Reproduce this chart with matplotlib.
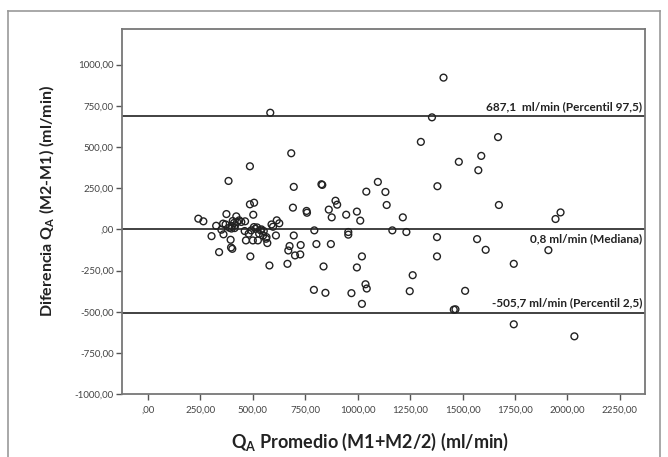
import numpy as np
import matplotlib
matplotlib.use("Agg")
import matplotlib.pyplot as plt
from matplotlib.ticker import FuncFormatter
from matplotlib.lines import Line2D

plt.rcParams["font.family"] = ["Lato", "DejaVu Sans"]
plt.rcParams["mathtext.fontset"] = "custom"
plt.rcParams["mathtext.rm"] = "Lato"
plt.rcParams["mathtext.bf"] = "Lato:bold"

# QA promedio (x) y diferencia M2-M1 (y)
promedio = [
    240, 264, 303, 325, 339, 350, 360, 374, 384, 370, 394, 396, 402, 404, 413,
    421, 410, 435, 463, 467, 461, 486, 488, 486, 506, 502, 492, 512, 524, 537,
    549, 563, 569, 579, 583, 596, 610, 614, 626,
    358, 398, 425, 445, 480, 505, 520, 530, 541, 552, 565, 500, 589, 400, 388, 415,
    665, 669, 675, 683, 691, 695, 695, 701, 726, 728, 756, 758, 791, 793, 803,
    827, 831, 837, 846, 862, 872, 876, 894, 902, 945, 955, 955, 970, 996, 996,
    1012, 1020, 1020, 1037, 1043, 1041, 1096, 1132, 1138, 1165, 1215, 1232,
    1248, 1262, 1301, 1354, 1380, 1378, 1378, 1409, 1458, 1466, 1482, 1512,
    1569, 1575, 1589, 1610, 1669, 1673, 1744, 1744, 1909, 1943, 1967, 2033,
]
diferencia = [
    65, 49, -41, 22, -138, -2, -30, 93, 294, 30, -63, -110, -118, 51, 8,
    79, 39, 55, 49, -67, -10, 383, -164, 152, 162, 89, -6, 4, -67, -6,
    -37, -57, -83, -219, 708, 16, -37, 55, 37,
    35, 5, 45, 45, -26, 14, 12, -26, 0, -10, -47, -67, 30, 20, 10, 25,
    -209, -128, -101, 462, 132, 258, -37, -158, -152, -95, 112, 101, -367, -6, -89,
    274, 270, -225, -385, 120, -89, 73, 174, 150, 89, -16, -32, -387, 108, -231,
    53, -452, -164, -333, -359, 229, 288, 227, 148, -6, 73, -16,
    -375, -278, 531, 680, 262, -47, -164, 921, -487, -485, 410, -373,
    -59, 359, 446, -124, 560, 148, -209, -576, -126, 63, 103, -649,
]

limites = [687.1, 0.8, -505.7]
etiquetas = [
    "687,1  ml/min (Percentil 97,5)",
    "0,8 ml/min (Mediana)",
    "-505,7 ml/min (Percentil 2,5)",
]
posicion_texto = ["arriba", "abajo", "arriba"]

xticks = np.arange(0, 2251, 250)
yticks = np.arange(-1000, 1001, 250)


def formato_spss(v, pos=None):
    s = f"{v:.2f}".replace(".", ",")
    if s.startswith("0,"):
        s = s[1:]
    if s.startswith("-0,"):
        s = "-" + s[2:]
    return s


fig = plt.figure(figsize=(6.68, 4.57), dpi=100)
ax = fig.add_axes([0.1826, 0.1375, 0.7837, 0.799])

ax.scatter(promedio, diferencia, s=24, facecolors="none", edgecolors="#222222",
           linewidths=1.0, zorder=3)

for valor, texto, pos in zip(limites, etiquetas, posicion_texto):
    ax.axhline(valor, color="#333333", lw=1.3, zorder=2)
    if pos == "arriba":
        ax.text(2355, valor + 26, texto, ha="right", va="bottom",
                fontsize=8.5, fontweight="bold", color="#222222")
    else:
        ax.text(2355, valor - 26, texto, ha="right", va="top",
                fontsize=8.5, fontweight="bold", color="#222222")

ax.set_xlim(-124, 2372)
ax.set_ylim(-1000, 1216)
ax.set_xticks(xticks)
ax.set_yticks(yticks)
ax.xaxis.set_major_formatter(FuncFormatter(formato_spss))
ax.yaxis.set_major_formatter(FuncFormatter(formato_spss))
ax.tick_params(axis="both", direction="out", length=4, width=1, color="#555555",
               labelsize=7, labelcolor="#444444", pad=2)
ax.tick_params(axis="x", pad=4)
for sp in ax.spines.values():
    sp.set_color("#777777")
    sp.set_linewidth(1.3)

ax.set_ylabel(r"Diferencia Q$_\mathbf{A}$ (M2-M1) (ml/min)", fontsize=11.5,
              fontweight="bold", color="#222222")
ax.yaxis.set_label_coords(-0.125, 0.53)
ax.set_xlabel(r"Q$_\mathbf{A}$ Promedio (M1+M2/2) (ml/min)", fontsize=13,
              fontweight="bold", color="#222222")
ax.xaxis.set_label_coords(0.473, -0.1)

# marco exterior gris
x0, x1, y1 = 8 / 668, 660 / 668, 1 - 11 / 457
for xs, ys in [([x0, x0], [0, y1]), ([x0, x1], [y1, y1]), ([x1, x1], [y1, 0])]:
    fig.add_artist(Line2D(xs, ys, transform=fig.transFigure, color="#999999", lw=1.2))

fig.savefig("out.png", dpi=100, facecolor="white")
